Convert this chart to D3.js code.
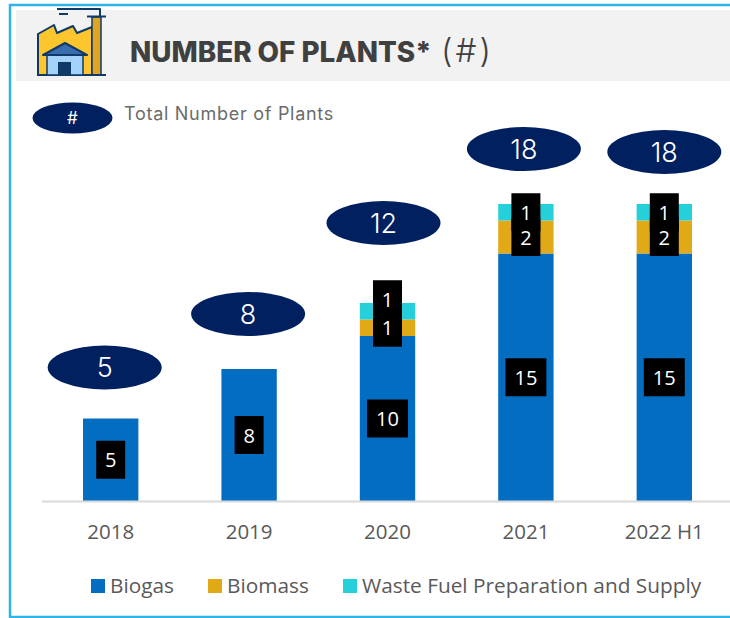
<!DOCTYPE html>
<html>
<head>
<meta charset="utf-8">
<script src="https://cdnjs.cloudflare.com/ajax/libs/d3/7.8.5/d3.min.js"></script>
<style>
html, body { margin: 0; padding: 0; background: #fff; }
svg { display: block; }
.tick-label, .legend-label { font-family: "Open Sans", sans-serif; fill: #595959; }
</style>
</head>
<body>
<svg width="730" height="618"></svg>
<script>
const categories = ["2018", "2019", "2020", "2021", "2022 H1"];
const biogas = [5, 8, 10, 15, 15];
const biomass = [0, 0, 1, 2, 2];
const wasteFuel = [0, 0, 1, 1, 1];
const totals = [5, 8, 12, 18, 18];
const seriesNames = ["Biogas", "Biomass", "Waste Fuel Preparation and Supply"];
const seriesColors = ["#036ec1", "#e2a917", "#26d0da"];

// hand placed in the original slide, so these are nudges and not data
const bubbleNudgeX = [-6, -1, -4, -2, 0];
const bubbleLift = [51, 55, 80, 55, 52];
const wasteLabelLift = [0, 0, 12, 0, 0];

const navy = "#002060";
const svg = d3.select("svg");

// frame and title band
svg.append("rect").attr("x", 16).attr("y", 10).attr("width", 714).attr("height", 71).attr("fill", "#f2f2f2");
svg.append("path")
    .attr("d", "M730 5H10V617H730")
    .attr("fill", "none")
    .attr("stroke", "#2fb4e6")
    .attr("stroke-width", 2.5);

drawIcon(svg.append("g"));

const title = svg.append("text")
    .attr("x", 130).attr("y", 62)
    .attr("font-family", "Inter, sans-serif")
    .attr("fill", "#404040");
title.append("tspan").attr("font-size", 27.8).attr("font-weight", 800).text("NUMBER OF PLANTS*");
title.append("tspan").attr("x", 441).attr("font-size", 33).attr("font-weight", 300).attr("letter-spacing", 3).text("(#)");

// key for the bubbles
svg.append("ellipse").attr("cx", 72.5).attr("cy", 118).attr("rx", 40).attr("ry", 15.5).attr("fill", navy);
svg.append("text").attr("x", 72.5).attr("y", 124).attr("text-anchor", "middle")
    .attr("font-family", "Inter, sans-serif").attr("font-size", 17).attr("fill", "#fff").text("#");
svg.append("text").attr("x", 124).attr("y", 120)
    .attr("font-family", "Inter, sans-serif").attr("font-size", 18).attr("letter-spacing", 0.72).attr("fill", "#6b6b6b")
    .text("Total Number of Plants");

// scales
const x = d3.scaleBand().domain(categories).range([41.5, 733.5]).paddingInner(0.6).paddingOuter(0.3);
const y = d3.scaleLinear().domain([0, 18]).range([501, 204]);

const rows = categories.map((c, i) => ({
    category: c, Biogas: biogas[i], Biomass: biomass[i],
    "Waste Fuel Preparation and Supply": wasteFuel[i]
}));
const stacked = d3.stack().keys(seriesNames)(rows);

svg.append("g").selectAll("g")
    .data(stacked)
    .join("g")
    .attr("fill", (d, i) => seriesColors[i])
    .selectAll("rect")
    .data(d => d.filter(s => s[1] > s[0]))
    .join("rect")
    .attr("x", d => x(d.data.category))
    .attr("y", d => y(d[1]))
    .attr("width", x.bandwidth())
    .attr("height", d => y(d[0]) - y(d[1]));

// axis
const axis = svg.append("g")
    .attr("transform", "translate(0,501)")
    .call(d3.axisBottom(x).tickSize(0).tickPadding(23));
axis.select(".domain").attr("stroke", "#d9d9d9").attr("stroke-width", 2);
axis.selectAll("text")
    .attr("class", "tick-label")
    .attr("font-size", 20.5);

// segment labels on black boxes
const labels = [];
stacked.forEach((layer, s) => layer.forEach((d, i) => {
    const v = d[1] - d[0];
    if (!v) return;
    const lift = s === 2 ? wasteLabelLift[i] : 0;
    labels.push({ i, v, cx: x(categories[i]) + x.bandwidth() / 2, cy: y((d[0] + d[1]) / 2) - lift });
}));

svg.append("g").selectAll("rect")
    .data(labels)
    .join("rect")
    .attr("x", d => d.cx - (d.v > 9 ? 20.5 : 14.5))
    .attr("y", d => d.cy - 19)
    .attr("width", d => d.v > 9 ? 41 : 29)
    .attr("height", 38)
    .attr("fill", "#000");

svg.append("g").selectAll("text")
    .data(labels)
    .join("text")
    .attr("x", d => d.cx)
    .attr("y", d => d.cy + 7.5)
    .attr("text-anchor", "middle")
    .attr("font-family", "Open Sans, sans-serif")
    .attr("font-size", 20)
    .attr("fill", "#fff")
    .text(d => d.v);

// total bubbles
const bubbles = svg.append("g").selectAll("g")
    .data(totals)
    .join("g")
    .attr("transform", (d, i) => {
        const bx = x(categories[i]) + x.bandwidth() / 2 + bubbleNudgeX[i];
        return "translate(" + bx + "," + (y(d) - bubbleLift[i]) + ")";
    });
bubbles.append("ellipse").attr("rx", 57).attr("ry", 22).attr("fill", navy);
bubbles.append("text")
    .attr("y", 9.5)
    .attr("text-anchor", "middle")
    .attr("font-family", "Inter, sans-serif")
    .attr("font-weight", 300)
    .attr("font-size", 27)
    .attr("fill", "#fff")
    .text(d => d);

// legend
const legendX = [91, 208, 343];
const legend = svg.append("g").selectAll("g")
    .data(seriesNames)
    .join("g")
    .attr("transform", (d, i) => "translate(" + legendX[i] + ",579)");
legend.append("rect").attr("width", 14).attr("height", 14).attr("fill", (d, i) => seriesColors[i]);
legend.append("text")
    .attr("class", "legend-label")
    .attr("x", 19).attr("y", 14)
    .attr("font-size", 20.8)
    .text(d => d);

function drawIcon(g) {
    const line = "#0f3a68";
    g.attr("stroke-linejoin", "round");
    // factory body
    g.append("path")
        .attr("d", "M38 75V34L54 25L57 33L73 26L77 33L92 27V75Z")
        .attr("fill", "#fdc62e").attr("stroke", line).attr("stroke-width", 2);
    // chimney
    g.append("rect").attr("x", 92).attr("y", 17).attr("width", 9).attr("height", 58)
        .attr("fill", "#dfa421").attr("stroke", line).attr("stroke-width", 1.5);
    g.append("path").attr("d", "M87 16.5H106M57 9H100V16M59 14H68M37 75H106")
        .attr("fill", "none").attr("stroke", line).attr("stroke-width", 2);
    // house
    g.append("rect").attr("x", 47).attr("y", 54).attr("width", 36).attr("height", 21)
        .attr("fill", "#a3d2f8").attr("stroke", line).attr("stroke-width", 1.5);
    g.append("path").attr("d", "M43 55L65 43L87 55Z")
        .attr("fill", "#3a6db0").attr("stroke", line).attr("stroke-width", 2);
    g.append("rect").attr("x", 58).attr("y", 62).attr("width", 13).attr("height", 13).attr("fill", line);
}
</script>
</body>
</html>
